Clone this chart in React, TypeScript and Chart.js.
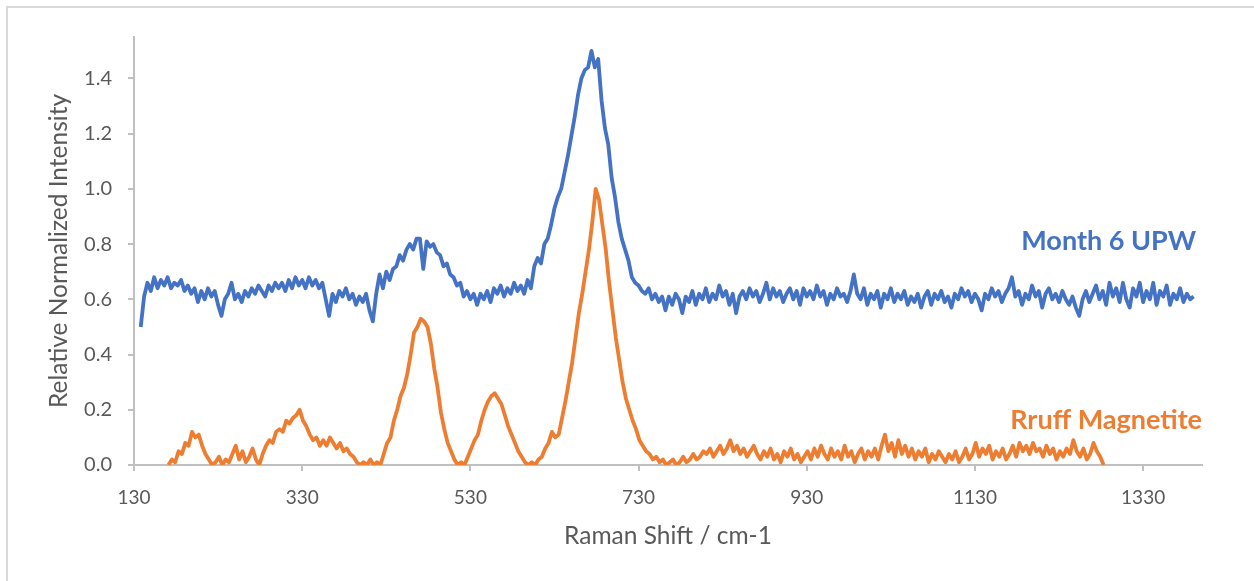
import React, { useEffect, useRef } from "react";
import { Chart, registerables } from "chart.js";

Chart.register(...registerables);

// Raman shift sampling (cm-1)
const xStep = 4;
const blueStart = 138;
const orangeStart = 171;

// Month 6 UPW (relative normalized intensity), one value per 4 cm-1 starting at 138
const blueValues = [
  0.50, 0.61, 0.66, 0.63, 0.68, 0.64, 0.67, 0.65, 0.68, 0.64,
  0.66, 0.65, 0.67, 0.63, 0.65, 0.62, 0.64, 0.59, 0.63, 0.60,
  0.64, 0.61, 0.63, 0.58, 0.54, 0.60, 0.62, 0.66, 0.60, 0.62,
  0.59, 0.63, 0.61, 0.64, 0.62, 0.65, 0.63, 0.61, 0.65, 0.63,
  0.66, 0.64, 0.66, 0.63, 0.67, 0.64, 0.68, 0.65, 0.67, 0.64,
  0.68, 0.65, 0.67, 0.64, 0.66, 0.60, 0.54, 0.62, 0.59, 0.63,
  0.61, 0.64, 0.60, 0.62, 0.58, 0.61, 0.59, 0.62, 0.56, 0.52,
  0.62, 0.69, 0.64, 0.70, 0.67, 0.71, 0.72, 0.76, 0.74, 0.78,
  0.80, 0.78, 0.82, 0.82, 0.71, 0.81, 0.79, 0.80, 0.77, 0.76,
  0.72, 0.73, 0.69, 0.68, 0.65, 0.66, 0.61, 0.63, 0.60, 0.62,
  0.58, 0.62, 0.60, 0.63, 0.59, 0.64, 0.62, 0.65, 0.61, 0.64,
  0.62, 0.66, 0.63, 0.65, 0.62, 0.67, 0.64, 0.72, 0.75, 0.73,
  0.80, 0.82, 0.87, 0.93, 0.97, 1.00, 1.06, 1.12, 1.19, 1.26,
  1.34, 1.40, 1.43, 1.44, 1.50, 1.44, 1.47, 1.32, 1.22, 1.16,
  1.04, 0.97, 0.88, 0.82, 0.78, 0.74, 0.68, 0.66, 0.65, 0.63,
  0.62, 0.64, 0.60, 0.62, 0.59, 0.61, 0.56, 0.61, 0.58, 0.62,
  0.60, 0.55, 0.61, 0.59, 0.63, 0.58, 0.62, 0.60, 0.64, 0.59,
  0.62, 0.60, 0.65, 0.61, 0.63, 0.58, 0.62, 0.55, 0.61, 0.63,
  0.60, 0.64, 0.61, 0.63, 0.59, 0.62, 0.66, 0.60, 0.64, 0.61,
  0.63, 0.59, 0.62, 0.64, 0.60, 0.63, 0.58, 0.64, 0.61, 0.63,
  0.60, 0.65, 0.61, 0.63, 0.58, 0.62, 0.60, 0.64, 0.61, 0.62,
  0.59, 0.63, 0.69, 0.62, 0.60, 0.64, 0.58, 0.62, 0.60, 0.63,
  0.57, 0.62, 0.60, 0.64, 0.59, 0.62, 0.60, 0.63, 0.58, 0.61,
  0.59, 0.62, 0.57, 0.61, 0.63, 0.58, 0.62, 0.60, 0.63, 0.59,
  0.61, 0.57, 0.62, 0.60, 0.64, 0.61, 0.63, 0.59, 0.62, 0.60,
  0.56, 0.62, 0.60, 0.64, 0.61, 0.63, 0.59, 0.62, 0.64, 0.68,
  0.61, 0.63, 0.58, 0.62, 0.60, 0.65, 0.61, 0.63, 0.57, 0.62,
  0.64, 0.60, 0.62, 0.59, 0.63, 0.60, 0.58, 0.61, 0.57, 0.54,
  0.60, 0.63, 0.59, 0.62, 0.65, 0.60, 0.63, 0.58, 0.66, 0.61,
  0.64, 0.59, 0.66, 0.60, 0.57, 0.64, 0.61, 0.66, 0.59, 0.63,
  0.60, 0.66, 0.58, 0.63, 0.61, 0.65, 0.58, 0.62, 0.60, 0.64,
  0.59, 0.62, 0.60, 0.61,
];

// Rruff Magnetite reference, one value per 4 cm-1 starting at 171
const orangeValues = [
  0.00, 0.02, 0.01, 0.05, 0.04, 0.08, 0.07, 0.12, 0.10, 0.11,
  0.07, 0.04, 0.02, 0.00, 0.01, 0.03, 0.00, 0.02, 0.01, 0.04,
  0.07, 0.02, 0.05, 0.01, 0.03, 0.06, 0.02, 0.00, 0.04, 0.07,
  0.09, 0.08, 0.12, 0.13, 0.12, 0.16, 0.15, 0.17, 0.18, 0.20,
  0.16, 0.14, 0.11, 0.09, 0.10, 0.07, 0.09, 0.07, 0.10, 0.08,
  0.06, 0.08, 0.05, 0.06, 0.04, 0.03, 0.01, 0.00, 0.01, 0.00,
  0.02, 0.00, 0.01, 0.00, 0.04, 0.08, 0.10, 0.16, 0.20, 0.25,
  0.28, 0.33, 0.40, 0.48, 0.50, 0.53, 0.52, 0.50, 0.44, 0.35,
  0.28, 0.19, 0.13, 0.08, 0.05, 0.02, 0.00, 0.01, 0.00, 0.03,
  0.06, 0.09, 0.11, 0.16, 0.20, 0.23, 0.25, 0.26, 0.24, 0.22,
  0.18, 0.14, 0.11, 0.08, 0.05, 0.03, 0.01, 0.00, 0.01, 0.00,
  0.02, 0.03, 0.06, 0.08, 0.12, 0.10, 0.11, 0.17, 0.23, 0.30,
  0.37, 0.46, 0.55, 0.62, 0.70, 0.78, 0.88, 1.00, 0.96, 0.87,
  0.78, 0.66, 0.56, 0.46, 0.38, 0.30, 0.24, 0.20, 0.16, 0.13,
  0.09, 0.07, 0.05, 0.04, 0.02, 0.03, 0.01, 0.02, 0.00, 0.01,
  0.02, 0.00, 0.01, 0.03, 0.01, 0.02, 0.04, 0.02, 0.03, 0.05,
  0.04, 0.06, 0.03, 0.05, 0.07, 0.04, 0.06, 0.09, 0.05, 0.07,
  0.04, 0.06, 0.03, 0.05, 0.07, 0.04, 0.02, 0.05, 0.03, 0.06,
  0.02, 0.04, 0.01, 0.05, 0.03, 0.06, 0.02, 0.04, 0.01, 0.03,
  0.05, 0.02, 0.06, 0.03, 0.07, 0.04, 0.02, 0.06, 0.03, 0.05,
  0.02, 0.07, 0.03, 0.05, 0.01, 0.04, 0.06, 0.02, 0.05, 0.03,
  0.06, 0.02, 0.07, 0.11, 0.05, 0.08, 0.03, 0.09, 0.04, 0.07,
  0.03, 0.06, 0.02, 0.05, 0.03, 0.06, 0.01, 0.04, 0.02, 0.05,
  0.03, 0.01, 0.04, 0.02, 0.05, 0.01, 0.03, 0.06, 0.02, 0.04,
  0.08, 0.03, 0.06, 0.04, 0.07, 0.02, 0.05, 0.03, 0.06, 0.02,
  0.04, 0.07, 0.03, 0.08, 0.05, 0.07, 0.04, 0.08, 0.05, 0.06,
  0.03, 0.07, 0.04, 0.06, 0.02, 0.05, 0.03, 0.06, 0.04, 0.09,
  0.05, 0.03, 0.06, 0.02, 0.04, 0.08, 0.05, 0.03, 0.00,
];

const xTicks = [130, 330, 530, 730, 930, 1130, 1330];
const yTicks = [0, 0.2, 0.4, 0.6, 0.8, 1.0, 1.2, 1.4];
const xRange = [130, 1400];
const yRange = [0, 1.55];

const seriesNames = ["Month 6 UPW", "Rruff Magnetite"];
const seriesColors = ["#4472C4", "#ED7D31"];
// series label anchors (right edge, baseline) in data coordinates
const labelAnchorX = [1393, 1400];
const labelAnchorY = [0.779, 0.13];

const xTitle = "Raman Shift / cm-1";
const yTitle = "Relative Normalized Intensity";

const FONT = "Lato, 'Open Sans', sans-serif";
const TEXT = "#595959";
const AXIS = "#bfbfbf";

const labelPlugin = {
  id: "seriesLabels",
  afterDatasetsDraw(chart: any) {
    const { ctx, scales } = chart;
    const xs = scales.x;
    const ys = scales.y;
    ctx.save();
    ctx.font = `bold 27px ${FONT}`;
    ctx.textAlign = "right";
    ctx.textBaseline = "alphabetic";
    seriesNames.forEach((name, i) => {
      ctx.fillStyle = seriesColors[i];
      ctx.fillText(name, xs.getPixelForValue(labelAnchorX[i]), ys.getPixelForValue(labelAnchorY[i]));
    });
    ctx.restore();
  },
};

export default function App() {
  const ref = useRef<HTMLCanvasElement>(null);

  useEffect(() => {
    const canvas = ref.current;
    if (!canvas) return;
    const chart = new Chart(canvas, {
      type: "line",
      data: {
        datasets: [
          {
            label: seriesNames[0],
            data: blueValues.map((v, i) => ({ x: blueStart + i * xStep, y: v })),
            borderColor: seriesColors[0],
            backgroundColor: seriesColors[0],
            borderWidth: 3.8,
            borderJoinStyle: "round",
            pointRadius: 0,
            tension: 0,
            fill: false,
          },
          {
            label: seriesNames[1],
            data: orangeValues.map((v, i) => ({ x: orangeStart + i * xStep, y: v })),
            borderColor: seriesColors[1],
            backgroundColor: seriesColors[1],
            borderWidth: 3.8,
            borderJoinStyle: "round",
            pointRadius: 0,
            tension: 0,
            fill: false,
          },
        ],
      },
      options: {
        responsive: false,
        animation: false,
        layout: { padding: { top: 37, right: 52, left: 0, bottom: 0 } },
        plugins: {
          legend: { display: false },
          tooltip: { enabled: false },
        },
        scales: {
          x: {
            type: "linear",
            min: xRange[0],
            max: xRange[1],
            afterBuildTicks: (s: any) => {
              s.ticks = xTicks.map((v) => ({ value: v }));
            },
            afterFit: (s: any) => {
              s.height = 116;
            },
            grid: { drawOnChartArea: false, drawTicks: true, tickLength: 6, color: AXIS, lineWidth: 2 },
            border: { display: true, color: AXIS, width: 2 },
            ticks: {
              color: TEXT,
              font: { family: FONT, size: 19 },
              padding: 15,
              maxRotation: 0,
              autoSkip: false,
              callback: (v: any) => String(v),
            },
            title: {
              display: true,
              text: xTitle,
              color: TEXT,
              font: { family: FONT, size: 24.5 },
              padding: { top: 0, bottom: 30 },
            },
          },
          y: {
            type: "linear",
            min: yRange[0],
            max: yRange[1],
            afterBuildTicks: (s: any) => {
              s.ticks = yTicks.map((v) => ({ value: v }));
            },
            afterFit: (s: any) => {
              s.width = 134;
            },
            grid: { drawOnChartArea: false, drawTicks: true, tickLength: 6, color: AXIS, lineWidth: 2 },
            border: { display: true, color: AXIS, width: 2 },
            ticks: {
              color: TEXT,
              font: { family: FONT, size: 20 },
              padding: 16,
              callback: (v: any) => Number(v).toFixed(1),
            },
            title: {
              display: true,
              text: yTitle,
              color: TEXT,
              font: { family: FONT, size: 24.5 },
              padding: { top: 44, bottom: 0 },
            },
          },
        },
      },
      plugins: [labelPlugin],
    });
    return () => chart.destroy();
  }, []);

  return (
    <div
      style={{
        position: "fixed",
        left: 0,
        top: 0,
        width: 1254,
        height: 581,
        background: "#ffffff",
        overflow: "hidden",
      }}
    >
      <div
        style={{
          position: "absolute",
          left: 6,
          top: 6,
          width: 1300,
          height: 700,
          border: "2px solid #d9d9d9",
        }}
      />
      <canvas
        ref={ref}
        width={1254}
        height={581}
        style={{ position: "absolute", left: 0, top: 0, width: 1254, height: 581 }}
      />
    </div>
  );
}
